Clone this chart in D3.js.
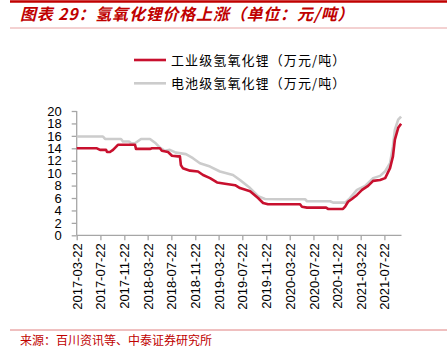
<!DOCTYPE html>
<html><head><meta charset="utf-8">
<script src="https://cdn.jsdelivr.net/npm/d3@7/dist/d3.min.js"></script>
<style>
html,body{margin:0;padding:0;background:#fff;}
svg{display:block;}
</style></head>
<body>
<script>
const titleText = "图表 29：氢氧化锂价格上涨（单位：元/吨）";
const sourceText = "来源：百川资讯等、中泰证券研究所";
const seriesNames = ["工业级氢氧化锂（万元/吨）", "电池级氢氧化锂（万元/吨）"];
const yTicks = [0,2,4,6,8,10,12,14,16,18,20];
const xTickLabels = ["2017-03-22","2017-07-22","2017-11-22","2018-03-22","2018-07-22","2018-11-22","2019-03-22","2019-07-22","2019-11-22","2020-03-22","2020-07-22","2020-11-22","2021-03-22","2021-07-22"];
const xDomain = ["2017-03-22","2021-10-18"];

const industrialDates = ["2017-03-22","2017-07-04","2017-07-20","2017-08-20","2017-08-25","2017-09-09","2017-09-25","2017-10-20","2018-01-16","2018-01-21","2018-04-03","2018-04-13","2018-05-24","2018-06-03","2018-07-05","2018-07-25","2018-08-25","2018-09-04","2018-09-09","2018-09-19","2018-10-26","2018-12-06","2019-01-01","2019-02-06","2019-03-14","2019-04-24","2019-06-15","2019-07-10","2019-08-31","2019-10-11","2019-11-06","2019-12-01","2020-05-14","2020-05-24","2020-06-19","2020-09-25","2020-10-05","2020-12-21","2021-01-01","2021-01-16","2021-02-05","2021-03-03","2021-03-29","2021-04-29","2021-05-25","2021-06-30","2021-07-26","2021-08-20","2021-09-04","2021-09-14","2021-10-01","2021-10-16"];
const industrialValues = [14.0,14.0,13.75,13.75,13.4,13.4,13.75,14.56,14.56,13.9,13.9,14.0,14.0,13.6,13.4,12.8,12.7,12.7,11.3,10.8,10.4,10.26,9.7,9.2,8.5,8.3,8.06,7.6,7.1,6.0,5.2,5.0,5.0,4.6,4.45,4.45,4.24,4.24,4.6,5.4,5.85,6.5,7.3,7.95,8.76,8.9,9.2,10.8,12.7,15.4,17.3,17.95];

const batteryDates = ["2017-03-22","2017-08-04","2017-08-15","2017-11-05","2017-11-15","2017-12-16","2017-12-27","2018-01-16","2018-02-16","2018-04-03","2018-04-29","2018-05-24","2018-06-19","2018-07-14","2018-08-14","2018-10-05","2018-11-10","2018-12-16","2019-02-06","2019-03-29","2019-06-04","2019-07-10","2019-08-31","2019-10-11","2019-11-16","2020-02-01","2020-06-09","2020-06-19","2020-10-16","2020-10-31","2021-01-01","2021-01-26","2021-03-03","2021-04-14","2021-05-25","2021-06-30","2021-07-26","2021-08-20","2021-09-04","2021-09-14","2021-10-01","2021-10-16"];
const batteryValues = [15.9,15.9,15.5,15.5,15.1,15.1,14.8,14.8,15.5,15.5,14.9,14.1,13.6,13.75,13.3,13.06,12.4,11.6,11.06,10.26,9.7,8.9,7.6,6.3,5.85,5.8,5.8,5.48,5.48,5.26,5.26,5.97,7.3,7.95,9.2,9.56,10.3,11.6,14.3,17.0,18.6,19.1];

const seriesColors = ["#c8102e", "#cccccc"];

const W = 447, H = 348;
const parse = d3.timeParse("%Y-%m-%d");
const svg = d3.select("body").append("svg").attr("width", W).attr("height", H);

// header
svg.append("line").attr("x1",10).attr("x2",W).attr("y1",1.5).attr("y2",1.5).attr("stroke","#c00000").attr("stroke-width",2.5);
svg.append("text").attr("x",20).attr("y",20).text(titleText)
  .attr("font-family","'Noto Sans CJK SC', sans-serif").attr("font-size",16).attr("font-weight","bold")
  .attr("font-style","italic").attr("letter-spacing",0.8).attr("fill","#c00000");
svg.append("line").attr("x1",10).attr("x2",W).attr("y1",28).attr("y2",28).attr("stroke","#e8a3a3").attr("stroke-width",1);

// footer
svg.append("line").attr("x1",10).attr("x2",W).attr("y1",330).attr("y2",330).attr("stroke","#e08080").attr("stroke-width",1);
svg.append("text").attr("x",20).attr("y",345).text(sourceText)
  .attr("font-family","'Noto Sans CJK SC', sans-serif").attr("font-size",12).attr("fill","#c00000");

// scales
const x = d3.scaleTime().domain(xDomain.map(parse)).range([76.7, 401.5]);
const y = d3.scaleLinear().domain([0,20]).range([235.3, 111]);

const axisColor = "#a6a6a6";
const yAxis = svg.append("g").attr("transform","translate(76.7,0)")
  .call(d3.axisLeft(y).tickValues(yTicks).tickSize(5).tickPadding(10).tickFormat(d3.format("d")));
yAxis.selectAll("text").attr("font-family","'Liberation Sans', Arial, sans-serif").attr("font-size",13).attr("fill","#000");

const xAxis = svg.append("g").attr("transform","translate(0,235.3)")
  .call(d3.axisBottom(x).tickValues(xTickLabels.map(parse)).tickSize(5).tickFormat(d3.timeFormat("%Y-%m-%d")));
xAxis.selectAll("text")
  .attr("font-family","'Liberation Sans', Arial, sans-serif").attr("font-size",13).attr("fill","#000")
  .attr("text-anchor","end").attr("transform","rotate(-90)").attr("x",-8).attr("y",0).attr("dy","0.35em");
[yAxis, xAxis].forEach(g => { g.selectAll("path,line").attr("stroke",axisColor).attr("stroke-width",1.3); });
yAxis.select(".domain").attr("d","M0,111V235.3");
xAxis.select(".domain").attr("d","M76.7,0H401.5");

// lines
const line = d3.line().x(d => x(d[0])).y(d => y(d[1]));
const batteryData = batteryDates.map((d,i) => [parse(d), batteryValues[i]]);
const industrialData = industrialDates.map((d,i) => [parse(d), industrialValues[i]]);
svg.append("path").datum(batteryData).attr("d", line).attr("fill","none").attr("stroke",seriesColors[1]).attr("stroke-width",2.6).attr("stroke-linejoin","round");
svg.append("path").datum(industrialData).attr("d", line).attr("fill","none").attr("stroke",seriesColors[0]).attr("stroke-width",2.6).attr("stroke-linejoin","round");

// legend
const legendY = [60, 83.3];
seriesNames.forEach((name, i) => {
  svg.append("line").attr("x1",134).attr("x2",166).attr("y1",legendY[i]).attr("y2",legendY[i])
    .attr("stroke",seriesColors[i]).attr("stroke-width",2.6);
  svg.append("text").attr("x",171).attr("y",legendY[i]).attr("dy","0.35em").text(name)
    .attr("font-family","'Noto Sans CJK SC', sans-serif").attr("font-size",13).attr("letter-spacing",1.1).attr("fill","#000");
});
</script>
</body></html>
